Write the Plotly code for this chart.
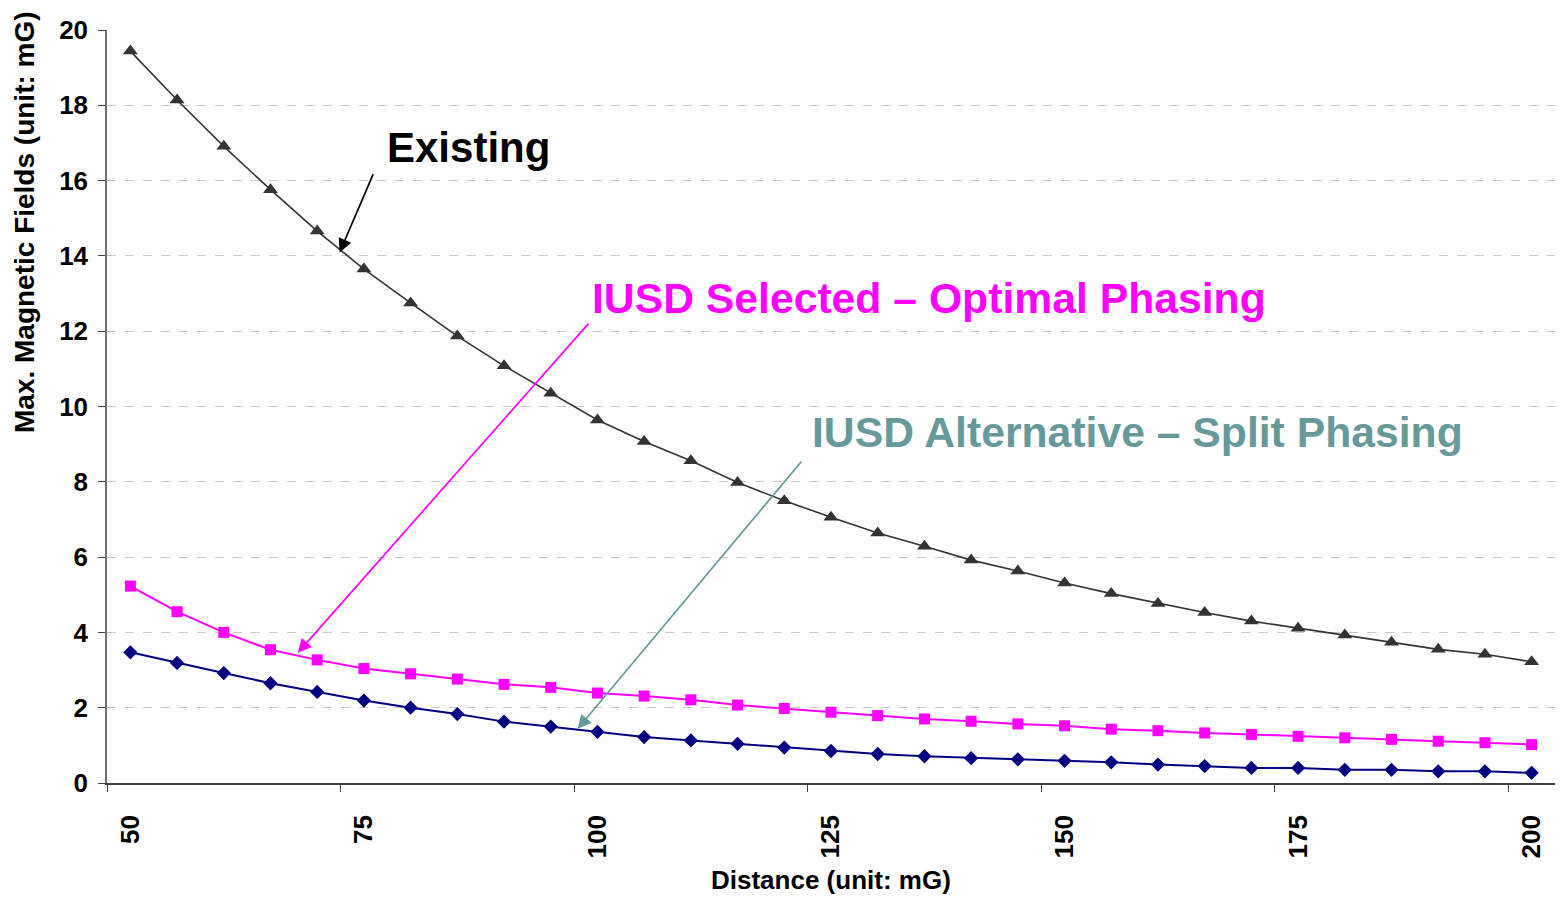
import plotly.graph_objects as go

# ---- data ----
distance = [50, 55, 60, 65, 70, 75, 80, 85, 90, 95, 100, 105, 110, 115, 120, 125,
            130, 135, 140, 145, 150, 155, 160, 165, 170, 175, 180, 185, 190, 195, 200]
existing = [19.44, 18.14, 16.91, 15.76, 14.66, 13.65, 12.75, 11.87, 11.08, 10.35, 9.64,
            9.07, 8.56, 7.98, 7.50, 7.06, 6.64, 6.29, 5.92, 5.63, 5.31, 5.03, 4.77,
            4.53, 4.30, 4.11, 3.93, 3.74, 3.55, 3.42, 3.22]
optimal = [5.23, 4.55, 4.00, 3.54, 3.27, 3.04, 2.90, 2.76, 2.62, 2.54, 2.39, 2.31, 2.21,
           2.07, 1.98, 1.88, 1.79, 1.70, 1.64, 1.57, 1.52, 1.43, 1.39, 1.33, 1.29, 1.24,
           1.20, 1.16, 1.11, 1.07, 1.02]
split = [3.47, 3.19, 2.92, 2.65, 2.42, 2.19, 2.00, 1.83, 1.63, 1.50, 1.36, 1.22, 1.13,
         1.04, 0.94, 0.85, 0.77, 0.71, 0.66, 0.63, 0.59, 0.55, 0.49, 0.45, 0.40, 0.40,
         0.35, 0.35, 0.31, 0.31, 0.27]
x_ticks = [50, 75, 100, 125, 150, 175, 200]
x_boundaries = [47.5, 72.5, 97.5, 122.5, 147.5, 172.5, 197.5]
y_ticks = [0, 2, 4, 6, 8, 10, 12, 14, 16, 18, 20]

labels = ["Existing", "IUSD Selected \u2013 Optimal Phasing", "IUSD Alternative \u2013 Split Phasing"]
label_sizes = [42, 42.7, 42.7]
label_pos = [(77.3, 16.88), (99.2, 12.87), (122.75, 9.32)]
arrow_tail = [(76.06, 16.21), (99.18, 12.24), (121.97, 8.58)]
arrow_head = [(72.4, 14.09), (67.93, 3.46), (97.89, 1.44)]
label_colors = ["#000000", "#FF00FF", "#669999"]

FONT = "Liberation Sans, Arial, sans-serif"

fig = go.Figure()
fig.add_trace(go.Scatter(x=distance, y=existing, mode="lines+markers", name="Existing",
                         line=dict(color="#333333", width=1.6),
                         marker=dict(symbol="triangle-up", size=13, color="#333333")))
fig.add_trace(go.Scatter(x=distance, y=optimal, mode="lines+markers", name="Optimal",
                         line=dict(color="#FF00FF", width=2),
                         marker=dict(symbol="square", size=11, color="#FF00FF")))
fig.add_trace(go.Scatter(x=distance, y=split, mode="lines+markers", name="Split",
                         line=dict(color="#000080", width=2),
                         marker=dict(symbol="diamond", size=11, color="#000080")))

for txt, (lx, ly), col, sz in zip(labels, label_pos, label_colors, label_sizes):
    fig.add_annotation(x=lx, y=ly, xref="x", yref="y", text=txt, showarrow=False,
                       xanchor="left", yanchor="middle",
                       font=dict(family=FONT, size=sz, color=col, weight="bold"))
for (tx, ty), (hx, hy), col in zip(arrow_tail, arrow_head, label_colors):
    fig.add_annotation(x=hx, y=hy, ax=tx, ay=ty, xref="x", yref="y", axref="x", ayref="y",
                       text="", showarrow=True, arrowhead=2, arrowsize=1.6,
                       arrowwidth=1.7, arrowcolor=col, standoff=0, startstandoff=0)

# axis titles
fig.add_annotation(x=0, y=14.9, xref="paper", yref="y", xshift=-83,
                   text="Max. Magnetic Fields (unit: mG)", showarrow=False,
                   textangle=-90, xanchor="center", yanchor="middle",
                   font=dict(family=FONT, size=28, color="#000000", weight="bold"))
fig.add_annotation(x=0.5, y=0, xref="paper", yref="paper", yshift=-97,
                   text="Distance (unit: mG)", showarrow=False,
                   xanchor="center", yanchor="middle",
                   font=dict(family=FONT, size=26, color="#000000", weight="bold"))

# the page body has an 8px margin, so the figure is sized to the remaining window
fig.update_layout(
    width=1548, height=887,
    margin=dict(l=99, r=1, t=22, b=112, autoexpand=False),
    paper_bgcolor="white", plot_bgcolor="white",
    showlegend=False,
    font=dict(family=FONT, color="#000000"),
)
fig.update_xaxes(
    range=[47.5, 202.5], tickmode="array", tickvals=x_ticks,
    ticktext=[str(v) for v in x_ticks], tickangle=-90, ticks="",
    ticklabelstandoff=20,
    tickfont=dict(family=FONT, size=26, color="#000000", weight="bold"),
    showgrid=False, zeroline=False, showline=True, linecolor="#404040", linewidth=1.5,
    minor=dict(tickmode="array", tickvals=x_boundaries, ticks="outside", ticklen=7,
               tickcolor="#404040", tickwidth=1.3, showgrid=False),
)
fig.update_yaxes(
    range=[0, 20], tickmode="array", tickvals=y_ticks, ticks="outside", ticklen=7,
    tickcolor="#404040", tickwidth=1.3, ticklabelstandoff=5,
    tickfont=dict(family=FONT, size=26, color="#000000", weight="bold"),
    showgrid=True, gridcolor="#C8C8C8", gridwidth=1, griddash="dash",
    zeroline=False, showline=True, linecolor="#707070", linewidth=1.5,
)

fig.write_html("out.html")
